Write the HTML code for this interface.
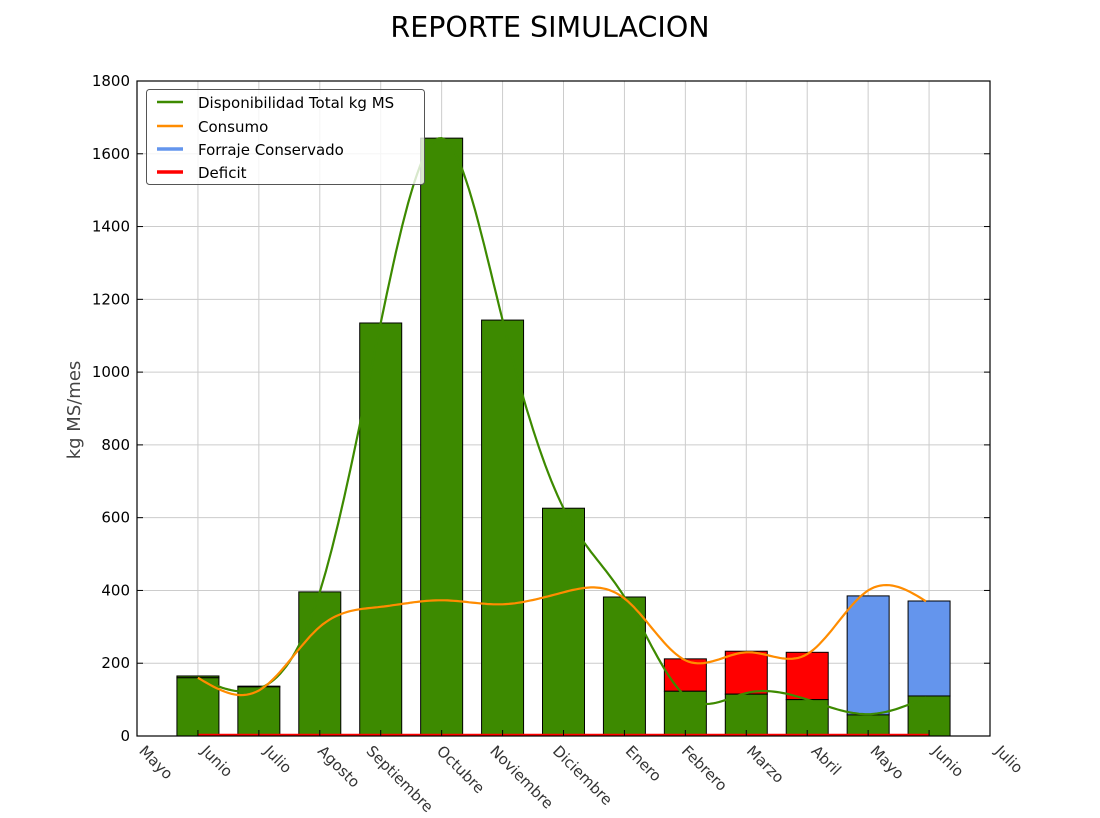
<!DOCTYPE html>
<html><head><meta charset="utf-8"><style>
body{margin:0;background:#fff;}
svg{display:block;font-family:"DejaVu Sans","Liberation Sans",sans-serif;}
</style></head><body>
<svg id="s" width="1100" height="818" xmlns="http://www.w3.org/2000/svg">
<rect width="1100" height="818" fill="#fff"/>
<text x="550" y="37" font-size="28.5" text-anchor="middle">REPORTE SIMULACION</text>
<g id="grid"></g>
<g id="bars"></g>
<g id="lines"></g>
<rect x="137" y="81" width="853" height="655" fill="none" stroke="#000" stroke-width="1.2"/>
<g id="ticks"></g>
<text transform="translate(80,410) rotate(-90)" font-size="18" fill="#444" text-anchor="middle">kg MS/mes</text>
<g>
<rect x="146.5" y="89.5" width="278" height="95" rx="3" fill="#fff" fill-opacity="0.8" stroke="#555"/>
<line x1="157" y1="102" x2="183" y2="102" stroke="#3d8a00" stroke-width="2.5"/>
<line x1="157" y1="126" x2="183" y2="126" stroke="#ff8c00" stroke-width="2.5"/>
<line x1="157" y1="149" x2="183" y2="149" stroke="#6495ed" stroke-width="3.5"/>
<line x1="157" y1="172" x2="183" y2="172" stroke="#ff0000" stroke-width="3.5"/>
<g font-size="15">
<text x="198" y="108">Disponibilidad Total kg MS</text>
<text x="198" y="132">Consumo</text>
<text x="198" y="155">Forraje Conservado</text>
<text x="198" y="178">Deficit</text>
</g></g>
</svg>
<script>
const NS="http://www.w3.org/2000/svg";
function el(p,t,a,txt){const e=document.createElementNS(NS,t);for(const k in a)e.setAttribute(k,a[k]);if(txt)e.textContent=txt;document.getElementById(p).appendChild(e);return e;}
const X0=137,DX=(990-137)/14,Y0=736,K=655/1800;
const yy=v=>Y0-v*K, xx=i=>X0+i*DX;
for(let i=1;i<14;i++)el('grid','line',{x1:xx(i),x2:xx(i),y1:81,y2:736,stroke:'#ccc'});
for(let v=200;v<1800;v+=200)el('grid','line',{x1:137,x2:990,y1:yy(v),y2:yy(v),stroke:'#ccc'});
for(let v=0;v<=1800;v+=200){el('ticks','text',{x:130,y:yy(v)+5,'font-size':15,'text-anchor':'end'},String(v));
 el('ticks','line',{x1:137,x2:143,y1:yy(v),y2:yy(v),stroke:'#000'});el('ticks','line',{x1:984,x2:990,y1:yy(v),y2:yy(v),stroke:'#000'});}
const names=["Mayo","Junio","Julio","Agosto","Septiembre","Octubre","Noviembre","Diciembre","Enero","Febrero","Marzo","Abril","Mayo","Junio","Julio"];
names.forEach((n,i)=>{el('ticks','line',{x1:xx(i),x2:xx(i),y1:730,y2:736,stroke:'#000'});
 const t=el('ticks','text',{'font-size':15,fill:'#333'},n);const L=t.getComputedTextLength();const h=15;
 const cx=xx(i)+19, cy=743+(L*0.707+h*0.707)/2;
 t.setAttribute('text-anchor','middle');t.setAttribute('x',cx);t.setAttribute('y',cy+5);t.setAttribute('transform',`rotate(45 ${cx} ${cy})`);});
const G=[160,135,396,1135,1643,1143,626,382,123,115,100,58,110];
const TOP=[165,137,396,1135,1643,1143,626,382,212,233,230,385,371];
const COL=[0,0,0,0,0,0,0,0,'#ff0000','#ff0000','#ff0000','#6495ed','#6495ed'];
G.forEach((g,k)=>{const x=xx(k+1)-21;
 if(COL[k])el('bars','rect',{x,y:yy(TOP[k]),width:42,height:(TOP[k]-g)*K,fill:COL[k],stroke:'#000'});
 else if(TOP[k]>g)el('bars','rect',{x,y:yy(TOP[k]),width:42,height:(TOP[k]-g)*K,fill:'#3d8a00',stroke:'#000'});
 el('bars','rect',{x,y:yy(g),width:42,height:g*K,fill:'#3d8a00',stroke:'#000'});});
function spline(y){const n=y.length;const M=new Array(n).fill(0);
 const a=[],b=[],c=[],d=[];for(let i=1;i<n-1;i++){a.push(1);b.push(4);c.push(1);d.push(6*(y[i+1]-2*y[i]+y[i-1]));}
 const m=d.length;for(let i=1;i<m;i++){const w=a[i]/b[i-1];b[i]-=w*c[i-1];d[i]-=w*d[i-1];}
 const s=new Array(m);s[m-1]=d[m-1]/b[m-1];for(let i=m-2;i>=0;i--)s[i]=(d[i]-c[i]*s[i+1])/b[i];
 for(let i=0;i<m;i++)M[i+1]=s[i];
 let pts=[];for(let i=0;i<n-1;i++)for(let t=0;t<=1;t+=0.05){const v=(1-t)*y[i]+t*y[i+1]+((1-t)**3-(1-t))*M[i]/6+(t**3-t)*M[i+1]/6;pts.push(xx(i+1+t).toFixed(1)+','+yy(v).toFixed(1));}
 return 'M'+pts.join(' L');}
el('lines','line',{x1:xx(1),x2:xx(13),y1:735,y2:735,stroke:'#ff0000',"stroke-width":2.5});
el('lines','path',{d:spline([160,130,396,1135,1643,1143,626,382,110,118,100,60,110]),fill:'none',stroke:'#3d8a00','stroke-width':2.2});
el('lines','path',{d:spline([160,125,300,355,373,362,395,378,208,230,225,400,365]),fill:'none',stroke:'#ff8c00','stroke-width':2.2});
</script>
</body></html>
